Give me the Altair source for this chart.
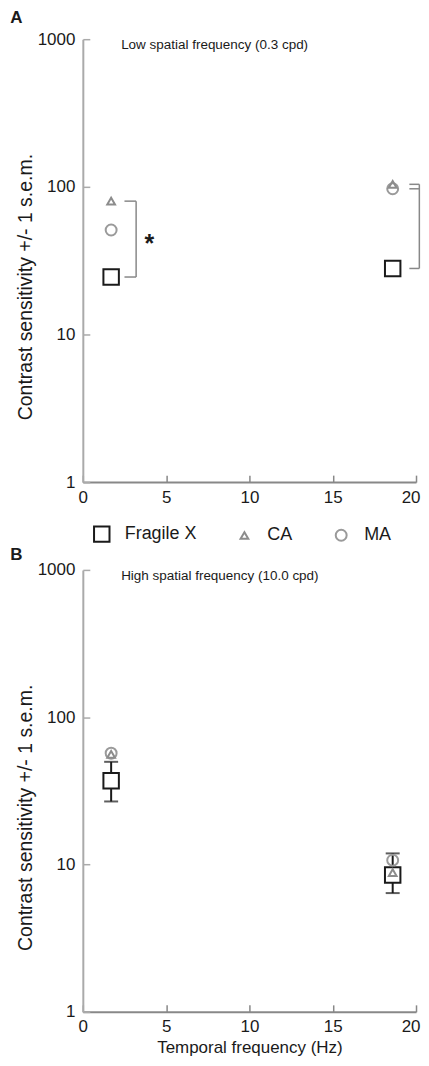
import altair as alt
import pandas as pd

# ---------------- data ----------------
groups = ["Fragile X", "CA", "MA"]
shapes = ["square", "triangle-up", "circle"]
colors = ["#1a1a1a", "#8c8c8c", "#9a9a9a"]
sizes = [240, 60, 120]

tf = [1.7, 18.6]  # temporal frequency (Hz)

# Panel A: low spatial frequency (0.3 cpd)
a_fragx = [24.5, 28.0]
a_ca = [80.0, 104.0]
a_ma = [51.0, 97.0]

# Panel B: high spatial frequency (10.0 cpd)
b_fragx = [37.0, 8.5]
b_fragx_lo = [26.8, 6.4]
b_fragx_hi = [49.8, 11.9]
b_ca = [56.0, 8.8]
b_ma = [57.0, 10.7]

# significance brackets (panel A)
stub_x = [2.5, 2.5, 19.6, 19.6, 19.6]
stub_x2 = [3.2, 3.2, 20.2, 20.2, 20.2]
stub_y = [80.0, 24.5, 104.0, 97.0, 28.0]
vert_x = [3.2, 20.2]
vert_y = [80.0, 104.0]
vert_y2 = [24.5, 28.0]
star_x = [4.0]
star_y = [43.0]

x_ticks = [0, 5, 10, 15, 20]
y_ticks = [1, 10, 100, 1000]

FONT = "Liberation Sans"
TXT = "#1a1a1a"
W, H_A, H_B = 334, 444, 443
LOG = dict(type="log", domain=[1, 1000], nice=False)


def x_enc(title, field="tf"):
    kw = dict(
        values=x_ticks, tickSize={"expr": "-7"}, tickColor="#888", tickWidth=1.5,
        domainColor="#888", domainWidth=2, labelFontSize=17, labelFont=FONT,
        labelColor=TXT, labelPadding=14, grid=False, labelFlush=False,
        labelAlign={"condition": {"test": "datum.value == 20", "value": "right"}, "value": "center"},
        labelOffset={"condition": {"test": "datum.value == 20", "value": 4}, "value": 0},
    )
    if title:
        kw.update(title=title, titleFontSize=17, titleFont=FONT, titleFontWeight="normal",
                  titleColor=TXT, titlePadding=5)
    else:
        kw.update(title=None)
    return alt.X(f"{field}:Q", scale=alt.Scale(domain=[0, 20], nice=False, zero=False),
                 axis=alt.Axis(**kw))


def y_enc(field="val"):
    return alt.Y(
        f"{field}:Q",
        scale=alt.Scale(**LOG),
        axis=alt.Axis(
            values=y_ticks, format="d", tickSize={"expr": "-7"}, tickColor="#aaa", tickWidth=1.5,
            domainColor="#aaa", domainWidth=2, labelFontSize=17, labelFont=FONT,
            labelColor=TXT, labelPadding=15, grid=False, labelFlush=False,
            title="Contrast sensitivity +/- 1 s.e.m.", titleFontSize=19.5, titleFont=FONT,
            titleFontWeight="normal", titleColor=TXT, titlePadding=2, titleY=248,
        ),
    )


def group_encodings(legend):
    return dict(
        shape=alt.Shape("group:N", scale=alt.Scale(domain=groups, range=shapes), legend=legend),
        color=alt.Color("group:N", scale=alt.Scale(domain=groups, range=colors), legend=legend),
        size=alt.Size("group:N", scale=alt.Scale(type="ordinal", domain=groups, range=sizes),
                      legend=legend),
        order=alt.Order("ord:Q"),
    )


def points_df(fx, ca, ma):
    rows = []
    # drawing order: Fragile X, MA, CA
    for g, vals in (("Fragile X", fx), ("MA", ma), ("CA", ca)):
        for t, v in zip(tf, vals):
            rows.append({"tf": t, "val": v, "group": g})
    return pd.DataFrame(rows)


def point_layer(df, legend, xtitle):
    if legend:
        lg = alt.Legend(
            orient="none", legendX=10, legendY=487, direction="horizontal", title=None,
            labelFontSize=18, labelFont=FONT, labelColor=TXT, symbolStrokeWidth=2,
            gridAlign="each", columnPadding=38, padding=0, labelOffset=14,
        )
    else:
        lg = None
    return alt.Chart(df).mark_point(filled=False, strokeWidth=2, opacity=1).encode(
        x=x_enc(xtitle), y=y_enc(), **group_encodings(lg)
    ).transform_window(ord="row_number()")


def title_text(text, xtitle):
    df = pd.DataFrame({"tf": [2.3], "val": [1000], "t": [text]})
    return alt.Chart(df).mark_text(
        align="left", baseline="middle", dy=6, fontSize=13.5, font=FONT, color=TXT
    ).encode(x=x_enc(xtitle), y=y_enc(), text="t:N")


# ---------------- panel A ----------------
dfA = points_df(a_fragx, a_ca, a_ma)
stubs = pd.DataFrame({"tf": stub_x, "tf2": stub_x2, "val": stub_y})
verts = pd.DataFrame({"tf": vert_x, "val": vert_y, "val2": vert_y2})
star = pd.DataFrame({"tf": star_x, "val": star_y, "t": ["*"]})

stub_layer = alt.Chart(stubs).mark_rule(color="#888", strokeWidth=1.5).encode(
    x=x_enc(None), x2="tf2:Q", y=y_enc())
vert_layer = alt.Chart(verts).mark_rule(color="#888", strokeWidth=1.5).encode(
    x=x_enc(None), y=y_enc(), y2="val2:Q")
star_layer = alt.Chart(star).mark_text(
    fontSize=25, fontWeight="bold", font=FONT, color=TXT, baseline="middle", dy=3
).encode(x=x_enc(None), y=y_enc(), text="t:N")

panelA = alt.layer(
    stub_layer, vert_layer, star_layer,
    point_layer(dfA, True, None),
    title_text("Low spatial frequency (0.3 cpd)", None),
).properties(
    width=W, height=H_A,
    title=alt.TitleParams("A", anchor="start", frame="bounds", fontSize=17, fontWeight="bold",
                          font=FONT, color=TXT, offset=3, dx=-5),
)

# ---------------- panel B ----------------
XT = "Temporal frequency (Hz)"
dfB = points_df(b_fragx, b_ca, b_ma)
errB = pd.DataFrame({"tf": tf, "val": b_fragx, "lo": b_fragx_lo, "hi": b_fragx_hi})
err_rule = alt.Chart(errB).mark_rule(color="#1a1a1a", strokeWidth=2).encode(
    x=x_enc(XT), y=y_enc("lo"), y2="hi:Q")
cap_lo = alt.Chart(errB).mark_tick(orient="horizontal", color="#1a1a1a", thickness=2, size=14).encode(
    x=x_enc(XT), y=y_enc("lo"))
cap_hi = alt.Chart(errB).mark_tick(orient="horizontal", color="#1a1a1a", thickness=2, size=14).encode(
    x=x_enc(XT), y=y_enc("hi"))
white_sq = alt.Chart(errB).mark_point(shape="square", filled=True, color="white", size=240,
                                      opacity=1).encode(x=x_enc(XT), y=y_enc("val"))

panelB = alt.layer(
    err_rule, cap_lo, cap_hi, white_sq,
    point_layer(dfB, False, XT),
    title_text("High spatial frequency (10.0 cpd)", XT),
).properties(
    width=W, height=H_B,
    title=alt.TitleParams("B", anchor="start", frame="bounds", fontSize=17, fontWeight="bold",
                          font=FONT, color=TXT, offset=-3, dx=-5),
)

chart = alt.vconcat(panelA, panelB, spacing=0).resolve_legend(
    shape="independent", color="independent", size="independent"
).properties(
    padding={"left": 2, "top": 0, "right": 0, "bottom": 0},
    background="white",
).configure_view(stroke=None)

chart.save("out.html", embed_options={"renderer": "svg", "actions": False})
